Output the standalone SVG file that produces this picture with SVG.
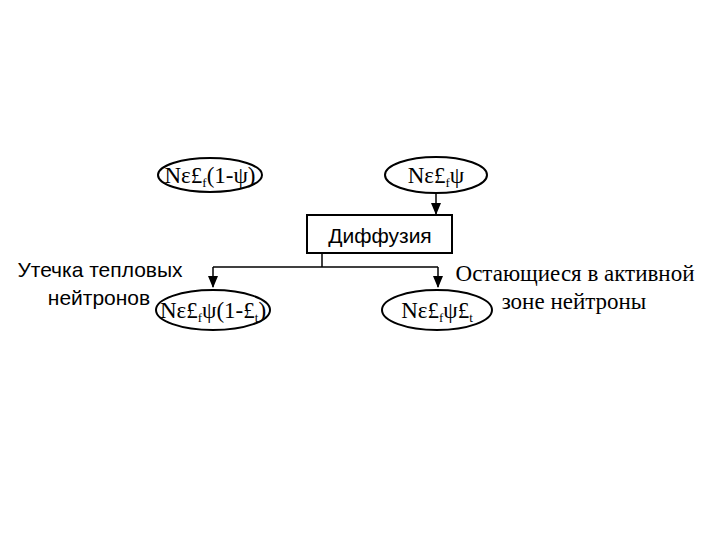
<svg xmlns="http://www.w3.org/2000/svg" width="720" height="540" viewBox="0 0 720 540">
<style>
.e{fill:none;stroke:#000;stroke-width:2}
.f{font-family:"Liberation Serif",serif;font-size:23px;fill:#000}
.b{font-size:13px}
.s{font-family:"Liberation Sans",sans-serif;fill:#000}
.l{stroke:#000;stroke-width:1.5;fill:none}
.h{fill:#000}
</style>
<rect width="720" height="540" fill="#fff"/>
<g id="connectors">
<line class="l" x1="436" y1="193" x2="436" y2="215"/>
<path class="h" d="M431,203 L441,203 L436,215 Z"/>
<polyline class="l" points="322,253 322,267"/>
<line class="l" x1="213" y1="267" x2="438" y2="267"/>
<line class="l" x1="213" y1="267" x2="213" y2="287"/>
<line class="l" x1="438" y1="267" x2="438" y2="287"/>
<path class="h" d="M208,276 L218,276 L213,288 Z"/>
<path class="h" d="M433,276 L443,276 L438,288 Z"/>
</g>
<g id="n1">
<ellipse class="e" cx="210" cy="175" rx="52" ry="17"/>
<text class="f" x="210" y="183" text-anchor="middle">Nε£<tspan class="b" dy="4">f</tspan><tspan dy="-4">(1-ψ)</tspan></text>
</g>
<g id="n2">
<ellipse class="e" cx="436" cy="175" rx="51" ry="18"/>
<text class="f" x="436" y="183" text-anchor="middle">Nε£<tspan class="b" dy="4">f</tspan><tspan dy="-4">ψ</tspan></text>
</g>
<g id="diff">
<rect x="307" y="215" width="145" height="38" fill="#fff" stroke="#000" stroke-width="2"/>
<text class="s" x="380" y="243" font-size="21" text-anchor="middle">Диффузия</text>
</g>
<g id="n3">
<ellipse class="e" cx="213" cy="310" rx="57" ry="20"/>
<text class="f" x="213" y="318" text-anchor="middle">Nε£<tspan class="b" dy="4">f</tspan><tspan dy="-4">ψ(1-£</tspan><tspan class="b" dy="4">t</tspan><tspan dy="-4">)</tspan></text>
</g>
<g id="n4">
<ellipse class="e" cx="437" cy="310" rx="55" ry="20"/>
<text class="f" x="437" y="318" text-anchor="middle">Nε£<tspan class="b" dy="4">f</tspan><tspan dy="-4">ψ£</tspan><tspan class="b" dy="4">t</tspan></text>
</g>
<g id="leak">
<text class="s" x="100" y="277" font-size="21" text-anchor="middle">Утечка тепловых</text>
<text class="s" x="99" y="305" font-size="21" text-anchor="middle">нейтронов</text>
</g>
<g id="remain">
<text class="f" x="575" y="281" font-size="21.5" text-anchor="middle">Остающиеся в активной</text>
<text class="f" x="574" y="309" font-size="21.5" text-anchor="middle">зоне нейтроны</text>
</g>
</svg>
